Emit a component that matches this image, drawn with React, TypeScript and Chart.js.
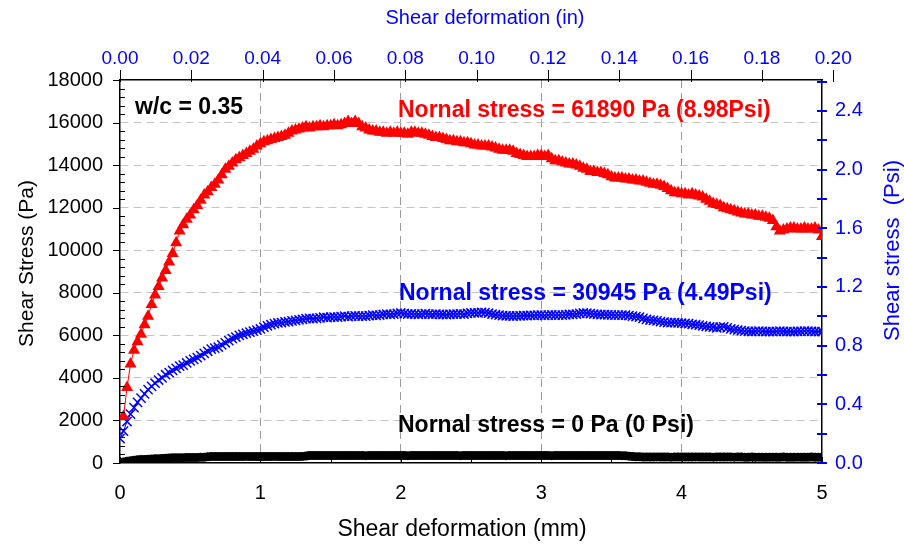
import React, { useEffect, useRef } from "react";
import { Chart, registerables } from "chart.js";

Chart.register(...registerables);

// Shear deformation (mm) of each reading (one row = 0.2 mm)
const deformMm = [
  0, 0.025, 0.05, 0.075, 0.1, 0.125, 0.15, 0.175,
  0.2, 0.225, 0.25, 0.275, 0.3, 0.325, 0.35, 0.375,
  0.4, 0.425, 0.45, 0.475, 0.5, 0.525, 0.55, 0.575,
  0.6, 0.625, 0.65, 0.675, 0.7, 0.725, 0.75, 0.775,
  0.8, 0.825, 0.85, 0.875, 0.9, 0.925, 0.95, 0.975,
  1.0, 1.025, 1.05, 1.075, 1.1, 1.125, 1.15, 1.175,
  1.2, 1.225, 1.25, 1.275, 1.3, 1.325, 1.35, 1.375,
  1.4, 1.425, 1.45, 1.475, 1.5, 1.525, 1.55, 1.575,
  1.6, 1.625, 1.65, 1.675, 1.7, 1.725, 1.75, 1.775,
  1.8, 1.825, 1.85, 1.875, 1.9, 1.925, 1.95, 1.975,
  2.0, 2.025, 2.05, 2.075, 2.1, 2.125, 2.15, 2.175,
  2.2, 2.225, 2.25, 2.275, 2.3, 2.325, 2.35, 2.375,
  2.4, 2.425, 2.45, 2.475, 2.5, 2.525, 2.55, 2.575,
  2.6, 2.625, 2.65, 2.675, 2.7, 2.725, 2.75, 2.775,
  2.8, 2.825, 2.85, 2.875, 2.9, 2.925, 2.95, 2.975,
  3.0, 3.025, 3.05, 3.075, 3.1, 3.125, 3.15, 3.175,
  3.2, 3.225, 3.25, 3.275, 3.3, 3.325, 3.35, 3.375,
  3.4, 3.425, 3.45, 3.475, 3.5, 3.525, 3.55, 3.575,
  3.6, 3.625, 3.65, 3.675, 3.7, 3.725, 3.75, 3.775,
  3.8, 3.825, 3.85, 3.875, 3.9, 3.925, 3.95, 3.975,
  4.0, 4.025, 4.05, 4.075, 4.1, 4.125, 4.15, 4.175,
  4.2, 4.225, 4.25, 4.275, 4.3, 4.325, 4.35, 4.375,
  4.4, 4.425, 4.45, 4.475, 4.5, 4.525, 4.55, 4.575,
  4.6, 4.625, 4.65, 4.675, 4.7, 4.725, 4.75, 4.775,
  4.8, 4.825, 4.85, 4.875, 4.9, 4.925, 4.95, 4.975,
  5.0,
];

// Shear stress (Pa), normal stress = 61890 Pa
const redPa = [
  null, 2190, 3550, 4650, 5300, 5700, 6050, 6500,
  6900, 7450, 7900, 8300, 8700, 9050, 9450, 9850,
  10350, 10900, 11200, 11450, 11650, 11900, 12100, 12350,
  12600, 12750, 12950, 13100, 13300, 13550, 13800, 13950,
  14100, 14250, 14350, 14450, 14550, 14650, 14750, 14900,
  15000, 15100, 15150, 15200, 15250, 15300, 15350, 15400,
  15500, 15600, 15650, 15700, 15750, 15800, 15750, 15800,
  15800, 15850, 15800, 15850, 15850, 15900, 15850, 15900,
  15950, 16050, 15950, 16050, 15950, 15800, 15750, 15650,
  15600, 15600, 15550, 15550, 15500, 15550, 15500, 15550,
  15500, 15500, 15450, 15550, 15550, 15500, 15500, 15450,
  15400, 15350, 15300, 15300, 15250, 15200, 15150, 15150,
  15100, 15100, 15050, 15050, 15000, 14950, 14950, 14900,
  14900, 14900, 14850, 14800, 14750, 14700, 14700, 14700,
  14650, 14550, 14500, 14450, 14400, 14400, 14400, 14450,
  14450, 14400, 14450, 14300, 14200, 14200, 14150, 14100,
  14050, 14050, 14000, 13950, 13850, 13800, 13700, 13700,
  13650, 13650, 13600, 13550, 13450, 13400, 13400, 13400,
  13350, 13350, 13300, 13300, 13250, 13250, 13200, 13150,
  13100, 13100, 13050, 13000, 12900, 12800, 12700, 12700,
  12650, 12650, 12600, 12650, 12600, 12550, 12500, 12400,
  12300, 12200, 12150, 12100, 12000, 11950, 11900, 11850,
  11800, 11750, 11700, 11700, 11650, 11650, 11600, 11600,
  11550, 11500, 11400, 11100, 10900, 10950, 11000, 11050,
  11050, 11000, 11000, 11050, 11000, 11000, 11050, 10950,
  10650,
];

// Shear stress (Pa), normal stress = 30945 Pa
const bluePa = [
  1150, 1500, 1950, 2300, 2600, 2850, 3050, 3250,
  3450, 3600, 3750, 3900, 4000, 4150, 4250, 4350,
  4450, 4550, 4600, 4700, 4800, 4870, 4950, 5050,
  5150, 5250, 5350, 5400, 5450, 5550, 5650, 5750,
  5850, 5920, 6000, 6050, 6100, 6150, 6200, 6250,
  6300, 6380, 6450, 6500, 6550, 6580, 6600, 6630,
  6650, 6680, 6700, 6730, 6750, 6780, 6800, 6780,
  6800, 6820, 6850, 6830, 6850, 6860, 6850, 6880,
  6900, 6880, 6900, 6920, 6900, 6900, 6900, 6930,
  6950, 6940, 6950, 6980, 7000, 6990, 7000, 7030,
  7050, 7020, 7000, 7010, 7000, 6990, 7000, 7020,
  7000, 6980, 7000, 6990, 6980, 6970, 6990, 7000,
  7000, 7010, 7000, 7030, 7050, 7060, 7050, 7080,
  7070, 7040, 7000, 6970, 6950, 6930, 6920, 6910,
  6900, 6910, 6920, 6930, 6930, 6940, 6940, 6950,
  6950, 6940, 6950, 6960, 6950, 6950, 6950, 6960,
  6980, 6990, 7000, 7030, 7050, 7040, 7020, 7000,
  6980, 6970, 6970, 6960, 6960, 6950, 6950, 6950,
  6950, 6930, 6900, 6880, 6850, 6800, 6750, 6720,
  6700, 6680, 6650, 6620, 6600, 6600, 6600, 6580,
  6570, 6560, 6550, 6520, 6500, 6480, 6450, 6420,
  6400, 6380, 6350, 6380, 6400, 6350, 6300, 6270,
  6250, 6220, 6200, 6190, 6180, 6190, 6200, 6190,
  6180, 6180, 6180, 6190, 6200, 6190, 6180, 6180,
  6180, 6190, 6190, 6200, 6200, 6190, 6180, 6180,
  6180,
];

// Shear stress (Pa), normal stress = 0 Pa
const blackPa = [
  0, 50, 80, 100, 130, 150, 160, 170,
  180, 190, 200, 200, 210, 220, 240, 250,
  250, 250, 250, 260, 260, 260, 260, 265,
  270, 290, 300, 300, 300, 300, 300, 300,
  300, 300, 300, 305, 310, 305, 300, 300,
  300, 300, 300, 305, 310, 305, 300, 300,
  300, 300, 300, 305, 310, 330, 350, 350,
  350, 350, 350, 350, 350, 350, 355, 350,
  350, 355, 350, 350, 350, 350, 345, 350,
  350, 350, 350, 355, 350, 350, 350, 350,
  350, 350, 345, 350, 350, 355, 350, 350,
  350, 350, 350, 350, 350, 350, 355, 350,
  350, 345, 350, 350, 350, 350, 350, 350,
  355, 350, 350, 350, 350, 350, 345, 350,
  350, 350, 350, 350, 355, 350, 350, 350,
  350, 350, 350, 345, 350, 350, 350, 350,
  350, 355, 350, 350, 350, 350, 350, 350,
  350, 350, 350, 350, 350, 350, 350, 345,
  340, 320, 300, 290, 290, 280, 280, 280,
  280, 285, 280, 280, 280, 275, 280, 280,
  280, 280, 280, 280, 285, 280, 280, 280,
  280, 275, 280, 280, 280, 280, 280, 275,
  280, 280, 270, 270, 280, 270, 275, 270,
  270, 270, 275, 270, 270, 280, 270, 270,
  270, 275, 270, 270, 270, 280, 270, 270,
  270,
];

const leftTicksPa = [0, 2000, 4000, 6000, 8000, 10000, 12000, 14000, 16000, 18000];
const bottomTicksMm = [0, 1, 2, 3, 4, 5];
const topTicksIn = [0.0, 0.02, 0.04, 0.06, 0.08, 0.1, 0.12, 0.14, 0.16, 0.18, 0.2];
const rightTicksPsi = [0.0, 0.4, 0.8, 1.2, 1.6, 2.0, 2.4];

const PA_PER_PSI = 6894.757;
const MM_PER_IN = 25.4;
const Y_MAX_PA = 18000;
const X_MAX_MM = 5;

const labelWc = "w/c = 0.35";
const labelRed = "Nornal stress = 61890 Pa (8.98Psi)";
const labelBlue = "Nornal stress = 30945 Pa (4.49Psi)";
const labelBlack = "Nornal stress = 0 Pa (0 Psi)";
const titleLeft = "Shear Stress (Pa)";
const titleBottom = "Shear deformation (mm)";
const titleTop = "Shear deformation (in)";
const titleRight = "Shear stress  (Psi)";

const FONT = "'Liberation Sans', Arial, sans-serif";
const RED = "#ff0000";
const BLUE = "#0000ff";

const decorPlugin = {
  id: "decor",
  afterDraw(chart: any) {
    const { ctx, chartArea: ca, scales } = chart;
    const y = scales.y;
    const x = scales.x;
    const x2 = scales.x2;
    const y2 = scales.y2;
    ctx.save();
    ctx.setLineDash([]);
    ctx.lineWidth = 1;
    ctx.strokeStyle = "#000";
    // left axis ticks: majors outward, minors inward
    for (let v = 0; v <= Y_MAX_PA; v += 400) {
      const p = Math.round(y.getPixelForValue(v)) + 0.5;
      ctx.beginPath();
      if (v % 2000 === 0) {
        ctx.moveTo(ca.left - 7, p);
        ctx.lineTo(ca.left, p);
      } else {
        ctx.moveTo(ca.left, p);
        ctx.lineTo(ca.left + 5, p);
      }
      ctx.stroke();
    }
    // bottom axis ticks (inward)
    for (let v = 0; v <= X_MAX_MM; v += 0.5) {
      const p = Math.round(x.getPixelForValue(v)) + 0.5;
      ctx.beginPath();
      ctx.moveTo(p, ca.bottom);
      ctx.lineTo(p, ca.bottom - (Number.isInteger(v) ? 6 : 4));
      ctx.stroke();
    }
    // top axis ticks (outward)
    topTicksIn.forEach((v) => {
      const p = Math.round(x2.getPixelForValue(v)) + 0.5;
      ctx.beginPath();
      ctx.moveTo(p, ca.top + 2);
      ctx.lineTo(p, ca.top - 10);
      ctx.stroke();
    });
    // right axis ticks (blue, crossing)
    ctx.strokeStyle = BLUE;
    ctx.lineWidth = 2;
    for (let k = 0; k <= 13; k++) {
      const v = k * 0.2;
      const p = Math.round(y2.getPixelForValue(v));
      ctx.beginPath();
      ctx.moveTo(ca.right - 5, p);
      ctx.lineTo(ca.right + 5, p);
      ctx.stroke();
    }

    // titles
    ctx.textBaseline = "middle";
    ctx.textAlign = "center";
    ctx.fillStyle = "#000";
    ctx.font = `23px ${FONT}`;
    ctx.fillText(titleBottom, (ca.left + ca.right) / 2 - 9, ca.bottom + 67);
    ctx.font = `21px ${FONT}`;
    ctx.save();
    ctx.translate(27, (ca.top + ca.bottom) / 2 - 8);
    ctx.rotate(-Math.PI / 2);
    ctx.fillText(titleLeft, 0, 0);
    ctx.restore();
    ctx.fillStyle = BLUE;
    ctx.font = `20px ${FONT}`;
    ctx.fillText(titleTop, (ca.left + ca.right) / 2 + 14, 18);
    ctx.font = `22px ${FONT}`;
    ctx.save();
    ctx.translate(ca.right + 71, (ca.top + ca.bottom) / 2 - 21);
    ctx.rotate(-Math.PI / 2);
    ctx.fillText(titleRight, 0, 0);
    ctx.restore();

    // annotations
    ctx.textAlign = "left";
    ctx.font = `bold 23px ${FONT}`;
    ctx.fillStyle = "#000";
    ctx.fillText(labelWc, ca.left + 15, ca.top + 28);
    ctx.fillStyle = RED;
    ctx.fillText(labelRed, ca.left + 278, ca.top + 31);
    ctx.fillStyle = BLUE;
    ctx.fillText(labelBlue, ca.left + 279, ca.top + 214);
    ctx.fillStyle = "#000";
    ctx.fillText(labelBlack, ca.left + 278, ca.top + 346);
    ctx.restore();
  },
};

export default function App() {
  const ref = useRef<HTMLCanvasElement | null>(null);

  useEffect(() => {
    if (!ref.current) return;
    const pts = (vals: (number | null)[]) => deformMm.map((x, i) => ({ x, y: vals[i] }));
    const chart = new Chart(ref.current, {
      type: "line",
      data: {
        datasets: [
          {
            label: labelRed,
            data: pts(redPa) as any,
            borderColor: RED,
            backgroundColor: RED,
            borderWidth: 1,
            pointStyle: "triangle",
            pointRadius: 7,
            pointBorderWidth: 0,
            pointBackgroundColor: RED,
            xAxisID: "x",
            yAxisID: "y",
          },
          {
            label: labelBlue,
            data: pts(bluePa) as any,
            borderColor: BLUE,
            backgroundColor: BLUE,
            borderWidth: 1,
            pointStyle: "crossRot",
            pointRadius: 6.5,
            pointBorderWidth: 1.5,
            pointBorderColor: BLUE,
            xAxisID: "x",
            yAxisID: "y",
          },
          {
            label: labelBlack,
            data: pts(blackPa) as any,
            borderColor: "#000",
            backgroundColor: "#000",
            borderWidth: 1,
            pointStyle: "circle",
            pointRadius: 4.5,
            pointBorderWidth: 0,
            pointBackgroundColor: "#000",
            xAxisID: "x",
            yAxisID: "y",
          },
        ],
      },
      options: {
        animation: false,
        responsive: false,
        devicePixelRatio: 1,
        layout: { padding: 0 },
        plugins: { legend: { display: false }, tooltip: { enabled: false } },
        scales: {
          x: {
            type: "linear",
            position: "bottom",
            min: 0,
            max: X_MAX_MM,
            afterBuildTicks: (s: any) => {
              s.ticks = bottomTicksMm.map((value) => ({ value }));
            },
            ticks: {
              color: "#000",
              font: { family: FONT, size: 20 },
              padding: 18,
              maxRotation: 0,
              autoSkip: false,
              callback: (v: any) => String(v),
            },
            grid: {
              drawTicks: false,
              lineWidth: 1,
              color: (c: any) => (c.tick && (c.tick.value === 0 || c.tick.value === X_MAX_MM) ? "transparent" : "#9a9a9a"),
            },
            border: { display: true, color: "#000", width: 1.5, dash: [8, 5] },
            afterFit: (s: any) => {
              s.height = 87;
            },
          },
          x2: {
            type: "linear",
            position: "top",
            min: 0,
            max: X_MAX_MM / MM_PER_IN,
            afterBuildTicks: (s: any) => {
              s.ticks = topTicksIn.map((value) => ({ value }));
            },
            ticks: {
              color: BLUE,
              font: { family: FONT, size: 19 },
              padding: 10,
              maxRotation: 0,
              autoSkip: false,
              callback: (v: any) => Number(v).toFixed(2),
            },
            grid: { display: false, drawTicks: false },
            border: { display: true, color: "#000", width: 1.5 },
            afterFit: (s: any) => {
              s.height = 80;
            },
          },
          y: {
            type: "linear",
            position: "left",
            min: 0,
            max: Y_MAX_PA,
            afterBuildTicks: (s: any) => {
              s.ticks = leftTicksPa.map((value) => ({ value }));
            },
            ticks: {
              color: "#000",
              font: { family: FONT, size: 20 },
              padding: 17,
              autoSkip: false,
              callback: (v: any) => String(v),
            },
            grid: {
              drawTicks: false,
              lineWidth: 1,
              color: (c: any) => (c.tick && (c.tick.value === 0 || c.tick.value === Y_MAX_PA) ? "transparent" : "#c4c4c4"),
            },
            border: { display: true, color: "#000", width: 1.5, dash: [8, 5] },
            afterFit: (s: any) => {
              s.width = 120;
            },
          },
          y2: {
            type: "linear",
            position: "right",
            min: 0,
            max: Y_MAX_PA / PA_PER_PSI,
            afterBuildTicks: (s: any) => {
              s.ticks = rightTicksPsi.map((value) => ({ value }));
            },
            ticks: {
              color: BLUE,
              font: { family: FONT, size: 20 },
              padding: 13,
              autoSkip: false,
              callback: (v: any) => Number(v).toFixed(1),
            },
            grid: { display: false, drawTicks: false },
            border: { display: true, color: "#000", width: 1.5 },
            afterFit: (s: any) => {
              s.width = 82;
            },
          },
        },
      },
      plugins: [decorPlugin],
    });
    return () => chart.destroy();
  }, []);

  return (
    <div style={{ position: "absolute", left: 0, top: 0, width: 904, height: 550, background: "#fff" }}>
      <canvas ref={ref} width={904} height={550} style={{ display: "block" }} />
    </div>
  );
}
